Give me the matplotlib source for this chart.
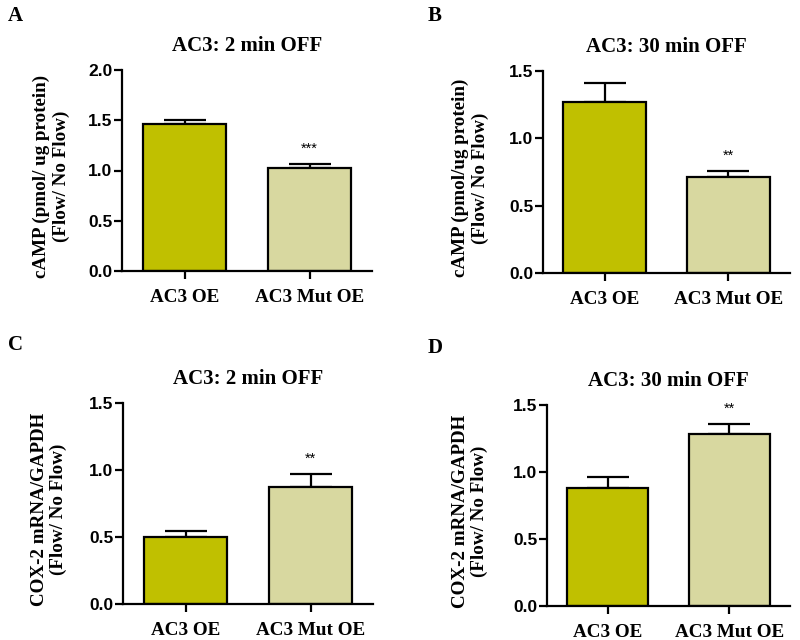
# Four bar panels: cAMP and COX-2 mRNA for AC3 OE vs AC3 Mut OE
import numpy as np
import matplotlib
matplotlib.use('Agg')
import matplotlib.pyplot as plt

groups = ['AC3 OE', 'AC3 Mut OE']
bar_colors = ['#C0C000', '#D8D8A0']

camp_2min = [1.46, 1.025]
camp_2min_err = [0.04, 0.04]
camp_30min = [1.27, 0.71]
camp_30min_err = [0.14, 0.05]
cox_2min = [0.50, 0.87]
cox_2min_err = [0.045, 0.10]
cox_30min = [0.88, 1.28]
cox_30min_err = [0.08, 0.08]

stars = [['', '***'], ['', '**'], ['', '**'], ['', '**']]
titles = ['AC3: 2 min OFF', 'AC3: 30 min OFF', 'AC3: 2 min OFF', 'AC3: 30 min OFF']
ylabels = ['cAMP (pmol/ ug protein)\n(Flow/ No Flow)',
           'cAMP (pmol/ug protein)\n(Flow/ No Flow)',
           'COX-2 mRNA/GAPDH\n(Flow/ No Flow)',
           'COX-2 mRNA/GAPDH\n(Flow/ No Flow)']
panel_letters = ['A', 'B', 'C', 'D']
yticks = [[0.0, 0.5, 1.0, 1.5, 2.0], [0.0, 0.5, 1.0, 1.5],
          [0.0, 0.5, 1.0, 1.5], [0.0, 0.5, 1.0, 1.5]]

values = [camp_2min, camp_30min, cox_2min, cox_30min]
errors = [camp_2min_err, camp_30min_err, cox_2min_err, cox_30min_err]

serif = 'Liberation Serif'
sans = 'Liberation Sans'

W, H = 800, 640
# axes boxes in pixels: left, top, right, bottom
boxes = [(122, 70, 372, 271), (543, 71, 790, 273),
         (123, 403, 373, 604), (547, 405, 790, 606)]
label_x = [51, 470, 49, 470]
letter_pos = [(8, 16), (428, 16), (8, 345), (428, 348)]

fig = plt.figure(figsize=(8, 6.4), dpi=100)

for i in range(4):
    left, top, right, bottom = boxes[i]
    ax = fig.add_axes([left / W, 1 - bottom / H, (right - left) / W, (bottom - top) / H])
    x = np.arange(len(groups))
    ax.bar(x, values[i], width=0.67, color=bar_colors, edgecolor='black', linewidth=1.6, zorder=2)
    ax.errorbar(x, values[i], yerr=[np.zeros(len(groups)), errors[i]], fmt='none',
                ecolor='black', elinewidth=1.6, capsize=15, capthick=1.6, zorder=1)
    for j in range(len(groups)):
        if stars[i][j]:
            ax.text(x[j], values[i][j] + errors[i][j] + 0.04 * yticks[i][-1], stars[i][j],
                    ha='center', va='bottom', fontsize=10.5, family=sans)
    ax.set_xlim(-0.5, 1.5)
    ax.set_ylim(0, yticks[i][-1])
    ax.set_yticks(yticks[i])
    ax.set_yticklabels([f'{t:.1f}' for t in yticks[i]], family=sans, fontweight='bold', fontsize=12.5)
    ax.set_xticks(x)
    ax.set_xticklabels(groups, family=serif, fontweight='bold', fontsize=13.8)
    ax.spines['top'].set_visible(False)
    ax.spines['right'].set_visible(False)
    ax.spines['left'].set_linewidth(1.6)
    ax.spines['bottom'].set_linewidth(1.6)
    ax.spines['left'].set_bounds(0, yticks[i][-1])
    ax.tick_params(axis='both', width=1.6, length=6, direction='out')
    ax.tick_params(axis='y', pad=1)
    ax.tick_params(axis='x', pad=7)
    ax.set_ylabel(ylabels[i], family=serif, fontweight='bold', fontsize=13.7,
                  linespacing=1.2, va='center')
    ax.yaxis.set_label_coords((label_x[i] - left) / (right - left), 0.47)
    ax.set_title(titles[i], family=serif, fontweight='bold', fontsize=15, pad=14)
    lx, ly = letter_pos[i]
    fig.text(lx / W, 1 - ly / H, panel_letters[i], family=serif, fontweight='bold', fontsize=15,
             ha='left', va='center')

fig.savefig('out.png', dpi=100)
